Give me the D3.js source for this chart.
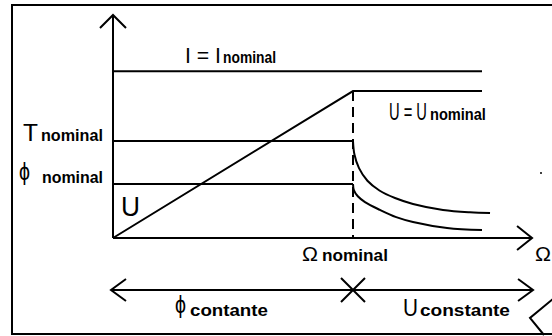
<!DOCTYPE html>
<html>
<head>
<meta charset="utf-8">
<script src="https://cdn.jsdelivr.net/npm/d3@7"></script>
<style>
  html, body { margin: 0; padding: 0; background: #fff; }
  svg { display: block; }
  text { font-family: "Liberation Sans", Arial, sans-serif; fill: #000; }
  .sub { font-weight: bold; }
</style>
</head>
<body>
<svg id="chart" width="552" height="336"></svg>
<script>
// Speed (per unit of nominal speed) and per-unit quantities of the motor operating regions
const speedMax = 1.746;          // end of the speed axis
const speedNominal = 1.0;        // Ω nominal: end of constant-flux region
const speedEnd = 1.5375;         // right end of the drawn characteristics
const currentLevel = 1.72;       // I = I nominal
const voltageLevel = 1.515;      // U = U nominal
const torqueLevel = 1.0;         // T nominal
const fluxLevel = 0.557;         // φ nominal

// Field-weakening region: torque and flux falling above nominal speed
const torqueSpeed = [1.0, 1.006, 1.025, 1.06, 1.11, 1.175, 1.25, 1.375, 1.4875, 1.571];
const torqueValues = [1.0, 0.86, 0.72, 0.59, 0.49, 0.412, 0.351, 0.289, 0.265, 0.258];
const fluxSpeed = [1.0, 1.004, 1.02, 1.05, 1.1125, 1.18, 1.25, 1.392, 1.5375];
const fluxValues = [0.557, 0.49, 0.43, 0.37, 0.289, 0.215, 0.165, 0.103, 0.082];

// Voltage rising with speed, then held at nominal
const voltageSpeed = [0, speedNominal, speedEnd];
const voltageValues = [0, voltageLevel, voltageLevel];

const svg = d3.select("#chart");

const x = d3.scaleLinear().domain([0, 1]).range([113, 353]);
const y = d3.scaleLinear().domain([0, 1]).range([238, 141]);

const line = d3.line().x(d => x(d[0])).y(d => y(d[1]));
const smooth = d3.line().x(d => x(d[0])).y(d => y(d[1])).curve(d3.curveCatmullRom.alpha(0.5));

const stroke = (sel, w = 2) => sel.attr("fill", "none").attr("stroke", "#000").attr("stroke-width", w);

// Frame
svg.append("rect").attr("x", 12).attr("y", 5).attr("width", 600).attr("height", 329)
  .call(stroke, 2);

// Axes
svg.append("path").attr("d", line([[0, 0], [0, y.invert(15)]])).call(stroke);
svg.append("path").attr("d", line([[speedMax, 0], [0, 0]])).call(stroke);

function chevron(tx, ty, dx, dy, ox, oy) {
  // open arrowhead with tip at (tx, ty)
  return d3.line()([[tx + dx, ty - dy], [tx, ty], [tx + ox, ty + oy]]);
}
// y-axis arrowhead
svg.append("path").attr("d", chevron(x(0), 15, -13, -13, 13, 13)).call(stroke);
// speed-axis arrowhead
svg.append("path").attr("d", chevron(x(speedMax), y(0), -15, 12, -15, 12)).call(stroke);

// Horizontal limits
svg.append("path").attr("d", line([[0, currentLevel], [speedEnd, currentLevel]])).call(stroke);
svg.append("path").attr("d", line([[0, torqueLevel], [speedNominal, torqueLevel]])).call(stroke);
svg.append("path").attr("d", line([[0, fluxLevel], [speedNominal, fluxLevel]])).call(stroke);

// Voltage
svg.append("path").attr("d", line(voltageSpeed.map((s, i) => [s, voltageValues[i]]))).call(stroke);

// Nominal speed marker
svg.append("path").attr("d", line([[speedNominal, voltageLevel], [speedNominal, 0]]))
  .call(stroke, 2).attr("stroke-dasharray", "10,6");

// Torque and flux beyond nominal speed
svg.append("path").attr("d", smooth(torqueSpeed.map((s, i) => [s, torqueValues[i]]))).call(stroke);
svg.append("path").attr("d", smooth(fluxSpeed.map((s, i) => [s, fluxValues[i]]))).call(stroke);

// Region arrows below the axis
const rowY = 290;
svg.append("path").attr("d", d3.line()([[x(0) - 2, rowY], [x(speedMax) + 1, rowY]])).call(stroke);
svg.append("path").attr("d", chevron(x(0) - 2, rowY, 15, 11, 15, 11)).call(stroke);
svg.append("path").attr("d", chevron(x(speedMax) + 1, rowY, -15, 11, -15, 11)).call(stroke);
const xm = x(speedNominal);
svg.append("path").attr("d", `M${xm - 12},${rowY - 12}L${xm + 12},${rowY + 12}M${xm - 12},${rowY + 12}L${xm + 12},${rowY - 12}`)
  .call(stroke);

// Partial arrow at the bottom-right corner
svg.append("path").attr("d", d3.line()([[553, 299], [530, 318], [544, 335]])).call(stroke);
svg.append("circle").attr("cx", 541).attr("cy", 173).attr("r", 1).attr("fill", "#000");

// Text squeezed horizontally to a given width via a scale transform
function fitted(px, py, str, size, width, cls) {
  const t = svg.append("text").attr("font-size", size).text(str);
  if (cls) t.attr("class", cls);
  const natural = t.node().getComputedTextLength();
  const k = width / natural;
  t.attr("transform", `translate(${px},${py}) scale(${k},1)`);
  return t;
}
// Labels: main symbol + bold subscript word
function label(mx, my, main, size, mainLen, sx, sy, sub, subLen, subSize = 17) {
  if (main) fitted(mx, my, main, size, mainLen);
  if (sub) fitted(sx, sy, sub, subSize, subLen, "sub");
}
label(185, 63, "I = I", 22, 36, 223, 63, "nominal", 53);
label(23, 141, "T", 24, 15, 41, 141, "nominal", 62);
label(19, 180, "ϕ", 24, 11, 42, 183, "nominal", 61);
label(121, 216, "U", 27, 19, 0, 0, null, 0);
label(389, 120, "U = U", 24, 38, 430, 120, "nominal", 56);
label(302, 261, "Ω", 20, 16, 322, 261, "nominal", 66);
label(535, 261, "Ω", 20, 16, 0, 0, null, 0);
label(175, 313, "ϕ", 24, 11, 190, 316, "contante", 78);
label(403, 316, "U", 24, 15, 420, 316, "constante", 90);
</script>
</body>
</html>
